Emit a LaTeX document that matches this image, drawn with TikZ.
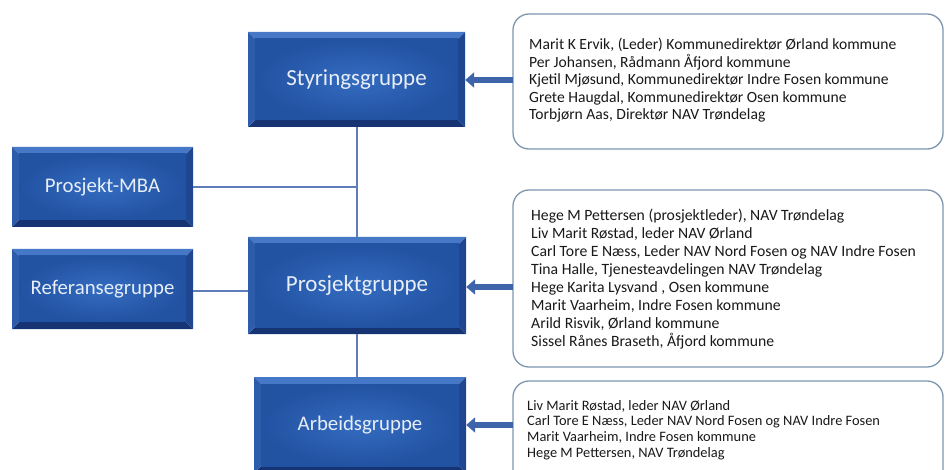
\documentclass[tikz,border=0pt]{standalone}
\usepackage{fontspec}
\setmainfont{Carlito}
\usetikzlibrary{arrows.meta}
\definecolor{bvtop}{RGB}{70,120,200}
\definecolor{bvleft}{RGB}{45,92,170}
\definecolor{bvright}{RGB}{30,70,145}
\definecolor{bvbot}{RGB}{22,52,115}
\definecolor{bxlight}{RGB}{52,108,192}
\definecolor{bxmid}{RGB}{34,82,162}
\definecolor{linkblue}{RGB}{95,125,185}
\definecolor{arrowblue}{RGB}{62,100,170}
\definecolor{listedge}{RGB}{125,150,175}
\definecolor{labelwhite}{RGB}{232,238,248}
\definecolor{listtext}{RGB}{25,25,25}
\tikzset{
  bluebox/.style={rectangle, inner sep=0pt, text=labelwhite,
    path picture={
      \coordinate (nw) at (path picture bounding box.north west);
      \coordinate (se) at (path picture bounding box.south east);
      \coordinate (ne) at (path picture bounding box.north east);
      \coordinate (sw) at (path picture bounding box.south west);
      \fill[bvtop] (nw) -- (ne) -- ([shift={(-7pt,-7pt)}]ne) -- ([shift={(7pt,-7pt)}]nw) -- cycle;
      \fill[bvbot] (sw) -- (se) -- ([shift={(-7pt,7pt)}]se) -- ([shift={(7pt,7pt)}]sw) -- cycle;
      \fill[bvleft] (nw) -- (sw) -- ([shift={(7pt,7pt)}]sw) -- ([shift={(7pt,-7pt)}]nw) -- cycle;
      \fill[bvright] (ne) -- (se) -- ([shift={(-7pt,7pt)}]se) -- ([shift={(-7pt,-7pt)}]ne) -- cycle;
      \shade[inner color=bxlight, outer color=bxmid] ([shift={(7pt,-7pt)}]nw) rectangle ([shift={(-7pt,7pt)}]se);
    }},
  bigfont/.style={font=\fontsize{23}{26}\selectfont},
  midfont/.style={font=\fontsize{20.8}{24}\selectfont},
  listbox/.style={draw=listedge, line width=1.3pt, rounded corners=16pt, fill=white},
  listtxt/.style={anchor=north west, inner sep=0pt, align=left, text=listtext},
  link/.style={draw=linkblue, line width=1.3pt},
  feed/.style={draw=arrowblue, line width=6pt, -{Triangle[width=15pt,length=9pt]}},
}
\begin{document}
\begin{tikzpicture}[x=1pt, y=-1pt]
\useasboundingbox (0,0) rectangle (945,470);
% list boxes
\path[listbox] (513,14) rectangle (943,149);
\path[listbox] (513,190) rectangle (943,367);
\path[listbox] (513,381) rectangle (943,500);
\coordinate (l1) at (513,80);
\coordinate (l2) at (513,287);
\coordinate (l3) at (513,425);
\node[listtxt, font=\fontsize{15.6}{17.6}\selectfont] (t1) at (529,37.8) {Marit K Ervik, (Leder) Kommunedirektør Ørland kommune\\
Per Johansen, Rådmann Åfjord kommune\\
Kjetil Mjøsund, Kommunedirektør Indre Fosen kommune\\
Grete Haugdal, Kommunedirektør Osen kommune\\
Torbjørn Aas, Direktør NAV Trøndelag};
\node[listtxt, font=\fontsize{15.7}{18}\selectfont] (t2) at (531,208.7) {Hege M Pettersen (prosjektleder), NAV Trøndelag\\
Liv Marit Røstad, leder NAV Ørland\\
Carl Tore E Næss, Leder NAV Nord Fosen og NAV Indre Fosen\\
Tina Halle, Tjenesteavdelingen NAV Trøndelag\\
Hege Karita Lysvand , Osen kommune\\
Marit Vaarheim, Indre Fosen kommune\\
Arild Risvik, Ørland kommune\\
Sissel Rånes Braseth, Åfjord kommune};
\node[listtxt, font=\fontsize{14.4}{15.7}\selectfont] (t3) at (527,400) {Liv Marit Røstad, leder NAV Ørland\\
Carl Tore E Næss, Leder NAV Nord Fosen og NAV Indre Fosen\\
Marit Vaarheim, Indre Fosen kommune\\
Hege M Pettersen, NAV Trøndelag};
% blue boxes
\node[bluebox, bigfont, minimum width=217pt, minimum height=95pt] (sty) at (356.5,79.5) {Styringsgruppe};
\node[bluebox, bigfont, minimum width=218pt, minimum height=97pt] (pro) at (357,285.5) {Prosjektgruppe};
\node[bluebox, midfont, minimum width=212pt, minimum height=96pt] (arb) at (360,425) {Arbeidsgruppe};
\node[bluebox, midfont, minimum width=181pt, minimum height=80pt] (mba) at (102.5,187) {Prosjekt-MBA};
\node[bluebox, midfont, minimum width=181pt, minimum height=80pt] (ref) at (102.5,289) {Referansegruppe};
% connectors
\coordinate (j1) at (357,187);
\draw[link] (sty.south -| j1) -- (pro.north -| j1);
\draw[link] (mba.east) -- (j1);
\draw[link] (ref.east |- 0,291) -- (pro.west |- 0,291);
\draw[link] (pro.south -| j1) -- (arb.north -| j1);
% arrows
\draw[feed] (l1) -- (sty.east |- l1);
\draw[feed] (l2) -- (pro.east |- l2);
\draw[feed] (l3) -- (arb.east |- l3);
\end{tikzpicture}
\end{document}
